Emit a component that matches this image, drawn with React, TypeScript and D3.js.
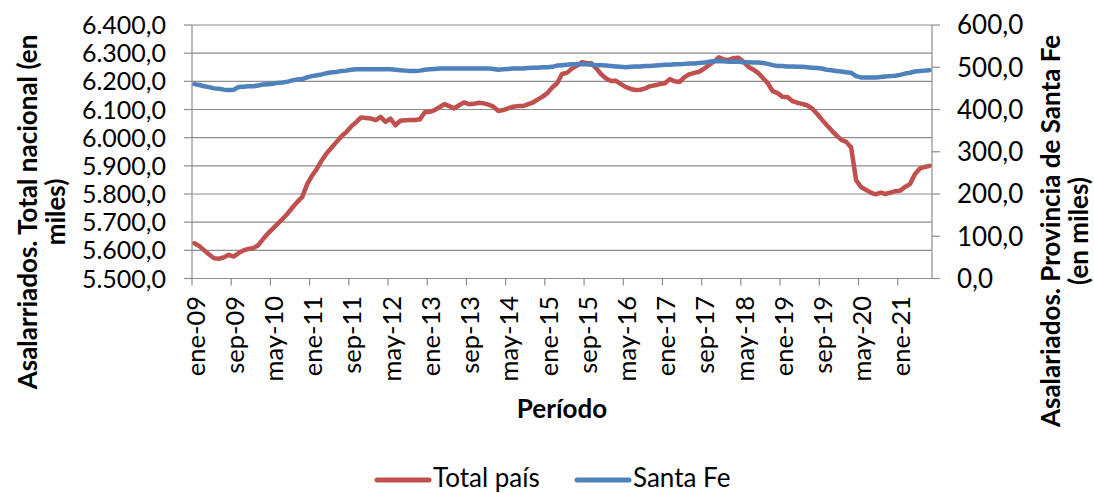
import React from "react";
import * as d3 from "d3";

const monthNames = ["ene", "feb", "mar", "abr", "may", "jun", "jul", "ago", "sep", "oct", "nov", "dic"];
const startYear = 2009;
const nMonths = 151;
const categories: string[] = Array.from({ length: nMonths }, (_, i) =>
  `${monthNames[i % 12]}-${String((startYear + Math.floor(i / 12)) % 100).padStart(2, "0")}`
);

const totalPais: number[] = [
  5625, 5615, 5600, 5585, 5572, 5570, 5575, 5584, 5578, 5590,
  5600, 5605, 5608, 5618, 5640, 5660, 5677, 5695, 5712, 5730,
  5752, 5772, 5790, 5835, 5865, 5890, 5920, 5945, 5965, 5985,
  6005, 6020, 6040, 6055, 6072, 6070, 6068, 6062, 6074, 6056,
  6068, 6044, 6060, 6062, 6063, 6063, 6065, 6090, 6092, 6098,
  6108, 6119, 6112, 6104, 6115, 6125, 6119, 6120, 6124, 6122,
  6117, 6110, 6095, 6098, 6104, 6110, 6112, 6112, 6118, 6124,
  6135, 6145, 6158, 6178, 6193, 6226, 6230, 6245, 6255, 6268,
  6265, 6264, 6246, 6225, 6210, 6201, 6202, 6190, 6180, 6173,
  6169, 6170, 6175, 6183, 6186, 6190, 6193, 6208, 6200, 6198,
  6215, 6225, 6230, 6234, 6245, 6258, 6270, 6285, 6278, 6276,
  6282, 6284, 6270, 6252, 6242, 6230, 6212, 6193, 6165, 6158,
  6145, 6144, 6130, 6124, 6120, 6115, 6104, 6086, 6065, 6045,
  6026, 6008, 5992, 5985, 5965, 5850, 5825, 5815, 5805, 5799,
  5805, 5800, 5805, 5810, 5812, 5825, 5835, 5870, 5890, 5896,
  5900,
];

const santaFe: number[] = [
  460, 458, 455, 453, 450, 449, 447, 446, 447, 453,
  454, 455, 455, 457, 459, 460, 461, 463, 464, 466,
  469, 471, 472, 476, 479, 481, 483, 486, 488, 489,
  491, 492, 494, 495, 495, 495, 495, 495, 495, 495,
  495, 494, 493, 492, 491, 491, 492, 494, 495, 496,
  497, 497, 497, 497, 497, 497, 497, 497, 497, 497,
  497, 496, 494, 495, 496, 497, 497, 497, 498, 499,
  499, 500, 500, 501, 504, 505, 506, 507, 507, 507,
  507, 506, 505, 505, 504, 503, 502, 501, 500, 501,
  502, 502, 503, 503, 504, 505, 506, 506, 507, 507,
  508, 509, 509, 510, 511, 513, 514, 515, 514, 513,
  513, 513, 512, 512, 511, 511, 510, 508, 505, 503,
  503, 502, 502, 501, 501, 500, 499, 498, 497, 494,
  493, 491, 490, 488, 487, 479, 476, 476, 476, 476,
  477, 478, 479, 480, 482, 485, 487, 490, 491, 492,
  493,
];

const leftTicks: number[] = [5500, 5600, 5700, 5800, 5900, 6000, 6100, 6200, 6300, 6400];
const rightTicks: number[] = [0, 100, 200, 300, 400, 500, 600];

const leftTitle: string[] = ["Asalarriados. Total nacional (en", "miles)"];
const rightTitle: string[] = ["Asalariados. Provincia de Santa Fe", "(en miles)"];
const xTitle = "Período";
const seriesNames: string[] = ["Total país", "Santa Fe"];

const RED = "#C0504D";
const BLUE = "#4F81BD";
const GRID = "#8C8C8C";
const FONT = "Lato, 'Noto Sans', sans-serif";

const fmt = (v: number) => {
  const s = d3.format(",.1f")(v);
  return s.replace(/,/g, "#").replace(/\./g, ",").replace(/#/g, ".");
};

export default function App() {
  const W = 1094, H = 493;
  const left = 192, right = 932, top = 25, bottom = 278.5;
  const x = d3.scaleBand<string>().domain(categories).range([left, right]).padding(0);
  const yL = d3.scaleLinear().domain([5500, 6400]).range([bottom, top]);
  const yR = d3.scaleLinear().domain([0, 600]).range([bottom, top]);
  const cx = (c: string) => (x(c) as number) + x.bandwidth() / 2;

  const lineL = d3.line<number>().x((_, i) => cx(categories[i])).y((d) => yL(d));
  const lineR = d3.line<number>().x((_, i) => cx(categories[i])).y((d) => yR(d));

  const labelIdx = categories.map((_, i) => i).filter((i) => i % 8 === 0);

  return (
    <svg width={W} height={H} style={{ position: "absolute", left: 0, top: 0, background: "#fff" }} fontFamily={FONT}>
      {leftTicks.map((t) => (
        <line key={"g" + t} x1={left} x2={right} y1={yL(t)} y2={yL(t)} stroke={GRID} strokeWidth={1.2} />
      ))}
      <line x1={left} x2={left} y1={top} y2={bottom} stroke={GRID} strokeWidth={1.2} />
      {leftTicks.map((t) => (
        <g key={"l" + t}>
          <line x1={left - 8} x2={left} y1={yL(t)} y2={yL(t)} stroke={GRID} strokeWidth={1.2} />
          <text x={166} y={yL(t)} dy="0.36em" textAnchor="end" fontSize={25} fill="#000">{fmt(t)}</text>
        </g>
      ))}
      <line x1={right} x2={right} y1={top} y2={bottom} stroke={GRID} strokeWidth={1.2} />
      {rightTicks.map((t) => (
        <g key={"r" + t}>
          <line x1={right} x2={right + 8} y1={yR(t)} y2={yR(t)} stroke={GRID} strokeWidth={1.2} />
          <text x={957} y={yR(t)} dy="0.36em" textAnchor="start" fontSize={26} fill="#000">{fmt(t)}</text>
        </g>
      ))}
      {labelIdx.map((i) => (
        <line key={"bt" + i} x1={x(categories[i]) as number} x2={x(categories[i]) as number} y1={bottom} y2={bottom + 7} stroke={GRID} strokeWidth={1.2} />
      ))}
      {labelIdx.map((i) => (
        <text key={"xl" + i} transform={`translate(${cx(categories[i])},296) rotate(-90)`} dy="0.4em" textAnchor="end" fontSize={25.5} fill="#000">
          {categories[i]}
        </text>
      ))}
      <path d={lineL(totalPais) || ""} fill="none" stroke={RED} strokeWidth={4.5} strokeLinejoin="round" strokeLinecap="round" />
      <path d={lineR(santaFe) || ""} fill="none" stroke={BLUE} strokeWidth={4.5} strokeLinejoin="round" strokeLinecap="round" />
      <text transform="translate(37,212) rotate(-90)" textAnchor="middle" fontSize={26} fontWeight={700} fill="#000">
        <tspan x={0} y={0}>{leftTitle[0]}</tspan>
        <tspan x={0} y={28}>{leftTitle[1]}</tspan>
      </text>
      <text transform="translate(1060,231) rotate(-90)" textAnchor="middle" fontSize={26} fontWeight={700} fill="#000">
        <tspan x={0} y={0}>{rightTitle[0]}</tspan>
        <tspan x={0} y={28}>{rightTitle[1]}</tspan>
      </text>
      <text x={562} y={418} textAnchor="middle" fontSize={26} fontWeight={700} fill="#000">{xTitle}</text>
      <line x1={377} x2={429} y1={480} y2={480} stroke={RED} strokeWidth={5} strokeLinecap="round" />
      <text x={433} y={487} fontSize={26} fill="#000">{seriesNames[0]}</text>
      <line x1={577} x2={629} y1={480} y2={480} stroke={BLUE} strokeWidth={5} strokeLinecap="round" />
      <text x={633} y={487} fontSize={26} fill="#000">{seriesNames[1]}</text>
    </svg>
  );
}
